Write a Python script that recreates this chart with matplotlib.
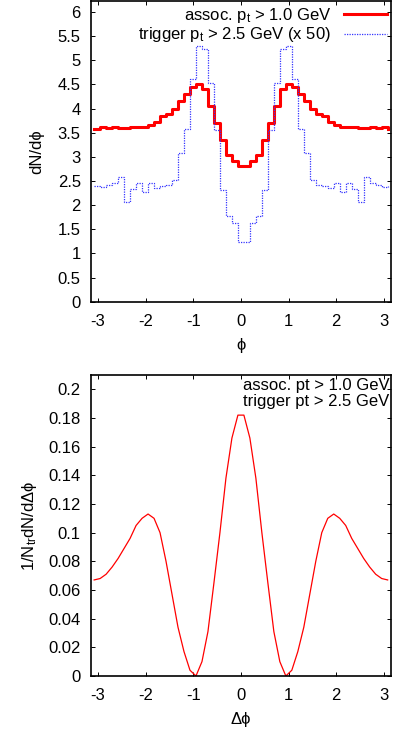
import matplotlib
matplotlib.use("Agg")
import matplotlib.pyplot as plt
import numpy as np

plt.rcParams['font.family'] = ['Liberation Sans', 'DejaVu Sans']
plt.rcParams['mathtext.fontset'] = 'custom'
plt.rcParams['mathtext.rm'] = 'Liberation Sans'
plt.rcParams['mathtext.it'] = 'Liberation Sans'
plt.rcParams['axes.unicode_minus'] = False

# 50 bins in phi, values at bin centres
nbins = 50
phi = -np.pi + (np.arange(nbins) + 0.5) * 2 * np.pi / nbins

# assoc. pt > 1.0 GeV (left half, bins 0..24)
assoc_left = [3.58, 3.62, 3.59, 3.62, 3.60, 3.60, 3.61, 3.61, 3.62, 3.67,
              3.73, 3.84, 3.88, 3.99, 4.15, 4.31, 4.45, 4.51, 4.41, 4.05,
              3.71, 3.35, 3.03, 2.92, 2.81]
# trigger pt > 2.5 GeV (x 50)
trigger_left = [2.40, 2.37, 2.42, 2.45, 2.59, 2.07, 2.34, 2.45, 2.27, 2.46,
                2.36, 2.40, 2.41, 2.52, 3.09, 3.57, 4.61, 5.30, 5.23, 4.53,
                3.56, 2.31, 1.77, 1.64, 1.24]
# 1/N_tr dN/dDphi
corr_left = [0.067, 0.068, 0.071, 0.076, 0.082, 0.089, 0.096, 0.105, 0.110, 0.113,
             0.110, 0.100, 0.080, 0.057, 0.034, 0.017, 0.004, 0.000, 0.010, 0.031,
             0.065, 0.100, 0.138, 0.166, 0.182]

assoc = assoc_left + assoc_left[::-1]
trigger = trigger_left + trigger_left[::-1]
corr = corr_left + corr_left[::-1]

fig = plt.figure(figsize=(4.01, 7.35), dpi=100)
ax1 = fig.add_axes([0.2257, 0.5895, 0.7501, 0.4085])
ax2 = fig.add_axes([0.2257, 0.0803, 0.7501, 0.4095])

xlim = (-3.155, 3.155)

# top panel
ax1.step(phi, assoc, where='post', color='red', lw=2.2,
         label=r'assoc. p$_\mathregular{t}$ > 1.0 GeV')
ax1.step(phi, trigger, where='post', color='#3535ff', lw=0.9,
         linestyle=(0, (1, 1)), label=r'trigger p$_\mathregular{t}$ > 2.5 GeV (x 50)')
ax1.set_xlim(xlim)
ax1.set_ylim(0, 6.22)
ax1.set_yticks(np.arange(0, 6.01, 0.5))
ax1.set_yticklabels(['0', '0.5', '1', '1.5', '2', '2.5', '3', '3.5', '4', '4.5', '5', '5.5', '6'])
ax1.set_xticks([-3, -2, -1, 0, 1, 2, 3])
ax1.set_xlabel('ϕ', fontsize=12, labelpad=6)
ax1.set_ylabel('dN/dϕ', fontsize=12, labelpad=10)
ax1.legend(loc='upper right', frameon=False, markerfirst=False, fontsize=12,
           handlelength=2.6, borderaxespad=0.25, labelspacing=0.05,
           handletextpad=0.75, borderpad=0.0)

# bottom panel
ax2.plot(phi, corr, color='red', lw=0.9)
ax2.set_xlim(xlim)
ax2.set_ylim(0, 0.21)
ax2.set_yticks(np.arange(0, 0.201, 0.02))
ax2.set_yticklabels(['0', '0.02', '0.04', '0.06', '0.08', '0.1', '0.12', '0.14', '0.16', '0.18', '0.2'])
ax2.set_xticks([-3, -2, -1, 0, 1, 2, 3])
ax2.set_xlabel('Δϕ', fontsize=12, labelpad=6)
ax2.set_ylabel(r'1/N$_\mathregular{tr}$dN/dΔϕ', fontsize=12, labelpad=7)
ax2.text(0.993, 0.99, 'assoc. pt > 1.0 GeV', transform=ax2.transAxes,
         ha='right', va='top', fontsize=12)
ax2.text(0.993, 0.937, 'trigger pt > 2.5 GeV', transform=ax2.transAxes,
         ha='right', va='top', fontsize=12)

for ax in (ax1, ax2):
    ax.tick_params(direction='in', top=True, right=True, length=3, width=0.7,
                   labelsize=12)
    ax.tick_params(axis='x', pad=9)
    ax.tick_params(axis='y', pad=7)
    for s in ax.spines.values():
        s.set_linewidth(1.2)

fig.savefig('out.png', dpi=100)
